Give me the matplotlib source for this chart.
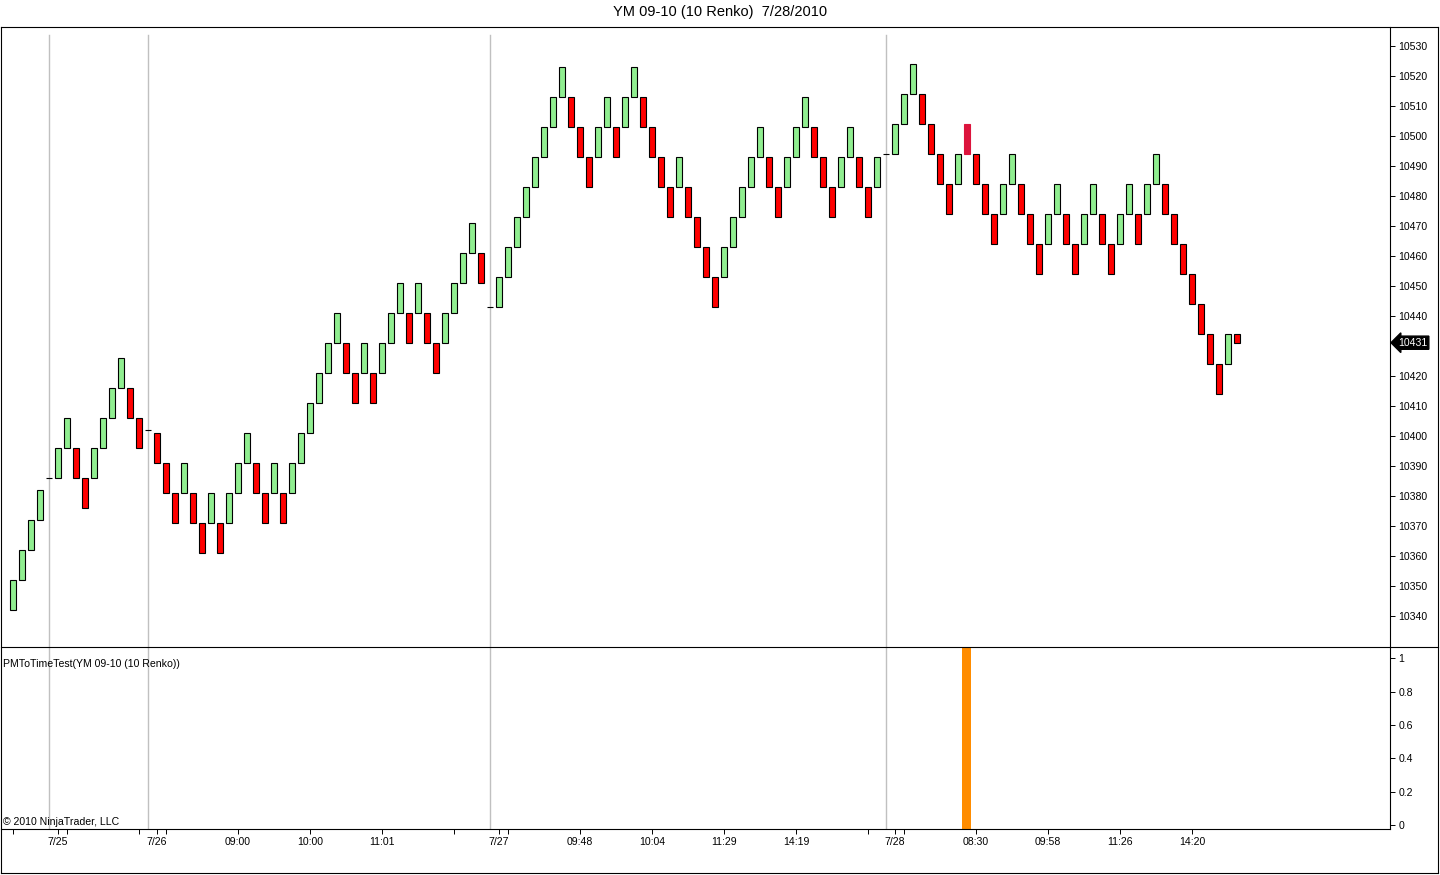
import matplotlib.pyplot as plt
import matplotlib.transforms as mtransforms
from matplotlib.lines import Line2D
import numpy as np

plt.rcParams["font.family"] = ["Liberation Sans", "DejaVu Sans"]

W, H = 1440, 875
UP_COLOR = "#90EE90"
DOWN_COLOR = "#FF0000"
SIGNAL_BAR_COLOR = "#DC143C"
SIGNAL_PLOT_COLOR = "#FF8C00"
SESSION_LINE = "#C0C0C0"
LABEL_SIZE = 7.6

title = "YM 09-10 (10 Renko)  7/28/2010"
indicator_label = "PMToTimeTest(YM 09-10 (10 Renko))"
copyright_text = "\u00a9 2010 NinjaTrader, LLC"

# --- Renko bricks (open / close) ---
bar_open = [
    10342, 10352, 10362, 10372, 10386, 10386, 10396, 10396, 10386, 10386,
    10396, 10406, 10416, 10416, 10406, 10402, 10401, 10391, 10381, 10381,
    10381, 10371, 10371, 10371, 10371, 10381, 10391, 10391, 10381, 10381,
    10381, 10381, 10391, 10401, 10411, 10421, 10431, 10431, 10421, 10421,
    10421, 10421, 10431, 10441, 10441, 10441, 10441, 10431, 10431, 10441,
    10451, 10461, 10461, 10443, 10443, 10453, 10463, 10473, 10483, 10493,
    10503, 10513, 10513, 10503, 10493, 10493, 10503, 10503, 10503, 10513,
    10513, 10503, 10493, 10483, 10483, 10483, 10473, 10463, 10453, 10453,
    10463, 10473, 10483, 10493, 10493, 10483, 10483, 10493, 10503, 10503,
    10493, 10483, 10483, 10493, 10493, 10483, 10483, 10494, 10494, 10504,
    10514, 10514, 10504, 10494, 10484, 10484, 10494, 10494, 10484, 10474,
    10474, 10484, 10484, 10474, 10464, 10464, 10474, 10474, 10464, 10464,
    10474, 10474, 10464, 10464, 10474, 10474, 10474, 10484, 10484, 10474,
    10464, 10454, 10444, 10434, 10424, 10424, 10434,
]
bar_close = [
    10352, 10362, 10372, 10382, 10386, 10396, 10406, 10386, 10376, 10396,
    10406, 10416, 10426, 10406, 10396, 10402, 10391, 10381, 10371, 10391,
    10371, 10361, 10381, 10361, 10381, 10391, 10401, 10381, 10371, 10391,
    10371, 10391, 10401, 10411, 10421, 10431, 10441, 10421, 10411, 10431,
    10411, 10431, 10441, 10451, 10431, 10451, 10431, 10421, 10441, 10451,
    10461, 10471, 10451, 10443, 10453, 10463, 10473, 10483, 10493, 10503,
    10513, 10523, 10503, 10493, 10483, 10503, 10513, 10493, 10513, 10523,
    10503, 10493, 10483, 10473, 10493, 10473, 10463, 10453, 10443, 10463,
    10473, 10483, 10493, 10503, 10483, 10473, 10493, 10503, 10513, 10493,
    10483, 10473, 10493, 10503, 10483, 10473, 10493, 10494, 10504, 10514,
    10524, 10504, 10494, 10484, 10474, 10494, 10504, 10484, 10474, 10464,
    10484, 10494, 10474, 10464, 10454, 10474, 10484, 10464, 10454, 10474,
    10484, 10464, 10454, 10474, 10484, 10464, 10484, 10494, 10474, 10464,
    10454, 10444, 10434, 10424, 10414, 10434, 10431,
]

# indicator output (PMToTimeTest): bars where it fired
signal_bars = [106]
signal_values = [1]

# x axis ticks (bar index) and labels
tick_bars = [0, 5, 6, 14, 16, 17, 25, 33, 41, 49, 54, 55, 63, 71, 79, 87,
             95, 98, 99, 107, 115, 123, 131]
tick_labels = ["", "7/25", "", "", "7/26", "", "09:00", "10:00", "11:01", "",
               "7/27", "", "09:48", "10:04", "11:29", "14:19", "", "7/28", "",
               "08:30", "09:58", "11:26", "14:20"]

price_ticks = list(range(10340, 10531, 10))
ind_ticks = [0, 0.2, 0.4, 0.6, 0.8, 1]
ind_tick_labels = ["0", "0.2", "0.4", "0.6", "0.8", "1"]


def fx(px):
    return px / W


def fy(py):
    return 1 - py / H


fig = plt.figure(figsize=(W / 100, H / 100), dpi=100)
ax1 = fig.add_axes([fx(1), fy(647), fx(1390) - fx(1), fy(27) - fy(647)])
ax2 = fig.add_axes([fx(1), fy(829), fx(1390) - fx(1), fy(647) - fy(829)], sharex=ax1)

o = np.array(bar_open, dtype=float)
c = np.array(bar_close, dtype=float)
x = np.arange(len(o))

colors = [UP_COLOR if cc >= oo else DOWN_COLOR for oo, cc in zip(o, c)]
edges = ["black"] * len(o)
for b in signal_bars:
    colors[b] = SIGNAL_BAR_COLOR
    edges[b] = SIGNAL_BAR_COLOR

# session starts = flat bars
sessions = x[o == c]
for s in sessions:
    ax1.axvline(s, ymax=(647 - 35) / 620, color=SESSION_LINE, lw=1, zorder=0)
    ax2.axvline(s, color=SESSION_LINE, lw=1, zorder=0)

ax1.bar(x, c - o, bottom=o, width=0.62, color=colors, edgecolor=edges,
        linewidth=0.8, zorder=2)

ax1.set_xlim(-1.33, 153.0)
ax1.set_ylim(10329.6, 10536.2)

last = c[-1]
ax1.yaxis.tick_right()
ax1.set_yticks([p for p in price_ticks if abs(p - last) > 5])
ax1.tick_params(axis="y", direction="out", length=3.6, width=0.7, pad=2.5,
                labelsize=LABEL_SIZE)
ax1.tick_params(axis="x", bottom=False, labelbottom=False)

trans = mtransforms.blended_transform_factory(ax1.transAxes, ax1.transData)
ax1.text(1 + 8 / 1389, last, f"{last:.0f}", transform=trans, ha="left",
         va="center", color="white", fontsize=LABEL_SIZE, clip_on=False,
         zorder=6,
         bbox=dict(boxstyle="larrow,pad=0.15", fc="black", ec="black"))

# indicator panel
ax2.set_ylim(-0.024, 1.069)
for b, v in zip(signal_bars, signal_values):
    if v > 0:
        ax2.axvspan(b - 0.5, b + 0.5, color=SIGNAL_PLOT_COLOR, lw=0, zorder=2)
ax2.yaxis.tick_right()
ax2.set_yticks(ind_ticks)
ax2.set_yticklabels(ind_tick_labels)
ax2.tick_params(axis="y", direction="out", length=3.6, width=0.7, pad=2.5,
                labelsize=LABEL_SIZE)
ax2.set_xticks(tick_bars)
ax2.set_xticklabels(tick_labels)
ax2.tick_params(axis="x", direction="out", length=3.6, width=0.7, pad=2,
                labelsize=LABEL_SIZE)

for ax in (ax1, ax2):
    for sp in ax.spines.values():
        sp.set_visible(False)

# frame lines
frame = [
    ((1, 1438), (27, 27)), ((1, 1438), (873, 873)),
    ((1, 1), (27, 873)), ((1438, 1438), (27, 873)),
    ((1, 1438), (647, 647)), ((1390, 1390), (27, 829)),
    ((1, 1390), (829, 829)),
]
for xs, ys in frame:
    fig.add_artist(Line2D([fx(v) for v in xs], [fy(v) for v in ys],
                          color="black", lw=0.8))

fig.text(0.5, fy(12), title, ha="center", va="center", fontsize=10.5)
fig.text(fx(3), fy(664), indicator_label, ha="left", va="center",
         fontsize=LABEL_SIZE)
fig.text(fx(3), fy(822), copyright_text, ha="left", va="center",
         fontsize=LABEL_SIZE)

fig.savefig("out.png", dpi=100)
